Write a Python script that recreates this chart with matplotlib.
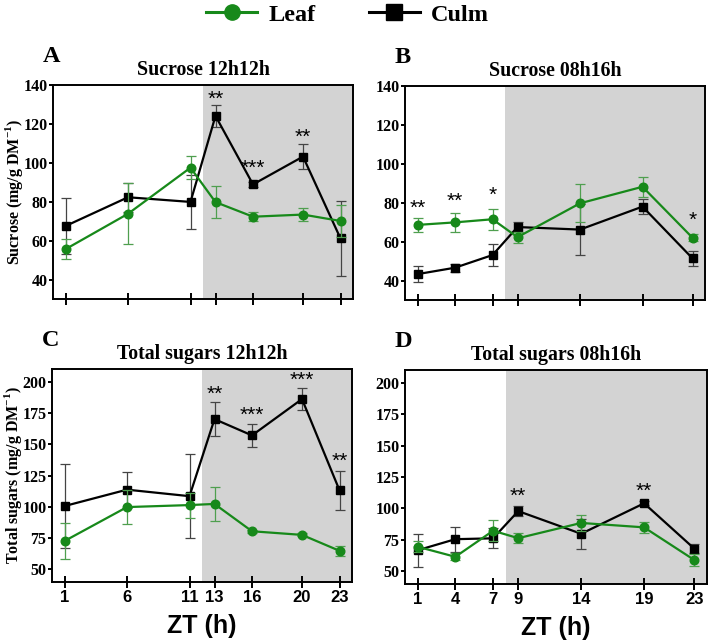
import matplotlib
matplotlib.use("Agg")
import matplotlib.pyplot as plt
from matplotlib.lines import Line2D

plt.rcParams['mathtext.fontset'] = 'custom'
plt.rcParams['mathtext.rm'] = 'Liberation Serif:bold'

W, H = 709, 642

# ZT sampling points
zt_12 = [1, 6, 11, 13, 16, 20, 23]
zt_08 = [1, 4, 7, 9, 14, 19, 23]

# Sucrose 12h12h
suc12_leaf = [55.6, 73.8, 97.5, 79.8, 72.3, 73.4, 70.1]
suc12_leaf_err = [5.0, 15.7, 6.0, 8.4, 2.2, 3.2, 8.2]
suc12_culm = [67.5, 82.3, 79.9, 124.1, 88.9, 103.2, 61.1]
suc12_culm_err = [14.2, 7.5, 14.0, 5.7, 1.2, 6.3, 19.5]
suc12_stars = ['', '', '', '**', '***', '**', '']
suc12_star_y = [0, 0, 0, 135, 99.5, 115.5, 0]

# Sucrose 08h16h
suc08_leaf = [68.6, 69.9, 71.5, 62.3, 79.7, 88.2, 62.0]
suc08_leaf_err = [3.8, 5.0, 5.3, 2.8, 9.8, 5.2, 1.8]
suc08_culm = [43.3, 46.6, 53.1, 67.5, 66.2, 78.0, 51.4]
suc08_culm_err = [4.0, 2.0, 5.8, 2.7, 13.0, 4.0, 3.8]
suc08_stars = ['**', '**', '*', '', '', '', '*']
suc08_star_y = [79.4, 83, 85.7, 0, 0, 0, 73.2]

# Total sugars 12h12h
tot12_leaf = [72.7, 99.8, 101.4, 102.3, 80.5, 77.6, 64.9]
tot12_leaf_err = [14.6, 13.5, 10.0, 13.5, 1.2, 1.2, 4.0]
tot12_culm = [100.6, 113.7, 108.5, 170.0, 157.0, 186.0, 113.2]
tot12_culm_err = [33.5, 14.3, 33.3, 13.5, 9.2, 9.0, 15.5]
tot12_stars = ['', '', '', '**', '***', '***', '**']
tot12_star_y = [0, 0, 0, 192.8, 176.4, 204, 140]

# Total sugars 08h16h
tot08_leaf = [69.6, 61.6, 82.3, 76.4, 88.5, 85.0, 59.0]
tot08_leaf_err = [4.5, 2.8, 8.2, 4.2, 6.0, 4.2, 5.0]
tot08_culm = [66.8, 75.6, 76.3, 97.9, 79.9, 104.1, 68.0]
tot08_culm_err = [13.2, 9.8, 8.0, 4.0, 11.8, 1.5, 3.5]
tot08_stars = ['', '', '', '**', '', '**', '']
tot08_star_y = [0, 0, 0, 113, 0, 117, 0]

GREEN = '#17891a'
SERIF = 'Liberation Serif'
SANS = 'Liberation Sans'


def px_axes(fig, left, top, right, bottom):
    '''Add axes from pixel box (origin top-left).'''
    return fig.add_axes([left / W, 1 - bottom / H, (right - left) / W, (bottom - top) / H])


def panel(ax, zt, leaf, leaf_err, culm, culm_err, stars, star_y,
          dark_from, ylim, yticks, title, letter, show_xlabels):
    '''
    Draw one panel with leaf and culm series.
    '''
    ax.axvspan(dark_from, 24, color='#d3d3d3', zorder=0, lw=0)
    ax.errorbar(zt, culm, yerr=culm_err, color='black', marker='s', ms=6.2, lw=1.6,
                ecolor='#444444', elinewidth=0.9, capsize=3.5, capthick=0.9, zorder=3)
    ax.errorbar(zt, leaf, yerr=leaf_err, color=GREEN, marker='o', ms=6.2, lw=1.6,
                ecolor='#4f9f4f', elinewidth=0.9, capsize=3.5, capthick=0.9, zorder=4)
    for x, s, y in zip(zt, stars, star_y):
        if s:
            ax.annotate(s, (x, y), xytext=(0, -3), textcoords='offset points',
                        ha='center', va='center', fontsize=15, family=SANS, zorder=5)
    ax.set_xlim(0, 24)
    ax.set_ylim(*ylim)
    ax.set_yticks(yticks)
    ax.set_xticks(zt)
    for sp in ax.spines.values():
        sp.set_linewidth(1.4)
    ax.tick_params(axis='x', direction='inout', length=9, width=1.4, pad=1)
    ax.tick_params(axis='y', direction='out', length=3, width=1.4, pad=1)
    for lab in ax.get_yticklabels():
        lab.set_family(SERIF)
        lab.set_fontweight('bold')
        lab.set_fontsize(11.5)
    if show_xlabels:
        ax.set_xticklabels([str(v) for v in zt], family=SANS, fontweight='bold', fontsize=12)
        ax.set_xlabel('ZT (h)', family=SANS, fontweight='bold', fontsize=18, labelpad=7)
    else:
        ax.set_xticklabels([])
    ax.set_title(title, family=SERIF, fontweight='bold', fontsize=14.3, pad=7)
    ax.text(-0.035, 1.085, letter, transform=ax.transAxes, family=SERIF,
            fontweight='bold', fontsize=17.5, ha='left', va='bottom')


def main():
    fig = plt.figure(figsize=(W / 100, H / 100), dpi=100)

    ax_a = px_axes(fig, 53, 85, 353, 299)
    ax_b = px_axes(fig, 405, 86, 705, 300)
    ax_c = px_axes(fig, 52, 369, 352, 582)
    ax_d = px_axes(fig, 405, 370, 707, 584)

    panel(ax_a, zt_12, suc12_leaf, suc12_leaf_err, suc12_culm, suc12_culm_err,
          suc12_stars, suc12_star_y, 12, (30, 140), [40, 60, 80, 100, 120, 140],
          'Sucrose 12h12h', 'A', False)
    panel(ax_b, zt_08, suc08_leaf, suc08_leaf_err, suc08_culm, suc08_culm_err,
          suc08_stars, suc08_star_y, 8, (30, 140), [40, 60, 80, 100, 120, 140],
          'Sucrose 08h16h', 'B', False)
    panel(ax_c, zt_12, tot12_leaf, tot12_leaf_err, tot12_culm, tot12_culm_err,
          tot12_stars, tot12_star_y, 12, (40, 210), [50, 75, 100, 125, 150, 175, 200],
          'Total sugars 12h12h', 'C', True)
    panel(ax_d, zt_08, tot08_leaf, tot08_leaf_err, tot08_culm, tot08_culm_err,
          tot08_stars, tot08_star_y, 8, (40, 210), [50, 75, 100, 125, 150, 175, 200],
          'Total sugars 08h16h', 'D', True)

    ax_a.set_ylabel(r'Sucrose (mg/g DM$^{\mathrm{-1}}$)', family=SERIF,
                    fontweight='bold', fontsize=11.5)
    ax_c.set_ylabel(r'Total sugars (mg/g DM$^{\mathrm{-1}}$)', family=SERIF,
                    fontweight='bold', fontsize=11.5)
    ax_a.yaxis.set_label_coords(-0.093, 0.5)
    ax_c.yaxis.set_label_coords(-0.093, 0.5)

    handles = [Line2D([], [], color=GREEN, marker='o', ms=11, lw=2.2),
               Line2D([], [], color='black', marker='s', ms=11, lw=2.2)]
    fig.legend(handles, ['Leaf', 'Culm'], loc='upper center', ncol=2,
               bbox_to_anchor=(0.49, 1.028), frameon=False, handlelength=2.1,
               columnspacing=2.2, handletextpad=0.45,
               prop={'family': SERIF, 'weight': 'bold', 'size': 17.5})

    fig.savefig('out.png', dpi=100)


if __name__ == '__main__':
    main()
